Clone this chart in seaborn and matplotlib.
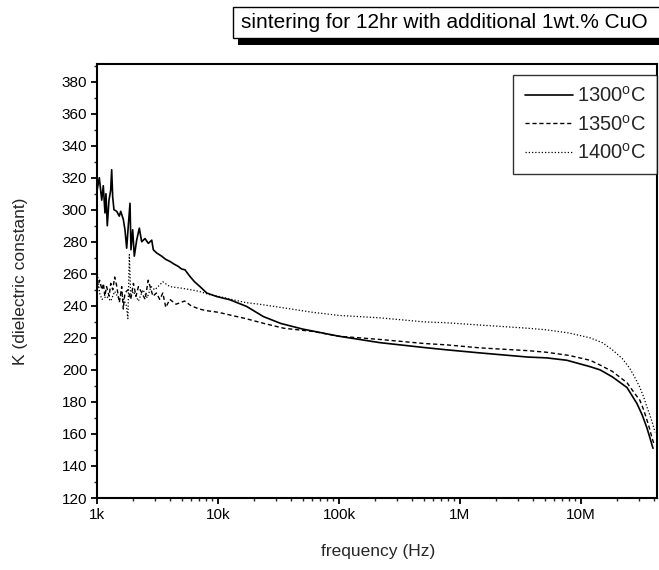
import matplotlib
matplotlib.use("Agg")
import matplotlib.pyplot as plt
import seaborn as sns
import pandas as pd
import numpy as np
from matplotlib.patches import Rectangle
from matplotlib.ticker import FixedLocator, FixedFormatter, LogLocator, NullFormatter, MultipleLocator

# ---------------- data ----------------
freq_1300 = [1000, 1045, 1094, 1127, 1164, 1186, 1216, 1256, 1297, 1322, 1348, 1381, 1455,
             1528, 1570, 1649, 1703, 1759, 1814, 1874, 1909, 1972, 2034, 2128, 2237, 2340,
             2493, 2656, 2834, 2920, 3114, 3424, 3700, 4011, 4350, 4697, 5000, 5335, 5871,
             6400, 7100, 8070, 9755, 12560, 17260, 23700, 33000, 50000, 100000, 218000,
             500000, 782000, 1460000, 3650000, 5200000, 7650000, 11900000, 14400000,
             18200000, 24000000, 29000000, 32000000, 35000000, 37000000, 39400000]
k_1300 = [312, 320, 306, 315, 298, 310, 290, 306, 312, 325, 308, 300, 299,
          296, 299, 294, 287.5, 276, 290, 304, 275, 287.5, 271, 281, 288.5, 280,
          282, 279, 281, 275, 273, 271, 269, 267.7, 266, 264.6, 263, 262.5, 258.3,
          255, 252, 248, 245.8, 243.75, 239.6, 233.3, 229, 225.5, 221, 217,
          214, 212.5, 210.6, 208, 207.5, 206, 202, 200,
          195.6, 189, 179, 172, 164, 158, 151]

freq_1350 = [1000, 1050, 1100, 1130, 1160, 1200, 1260, 1300, 1350, 1400, 1450, 1530, 1600,
             1650, 1700, 1800, 1900, 2000, 2100, 2200, 2350, 2500, 2650, 2800, 2900, 3100,
             3300, 3500, 3700, 4000, 4500, 5300, 6000, 7000, 8000, 10000, 13000, 17000,
             24000, 35000, 61000, 100000, 218000, 500000, 782000, 1460000, 3650000,
             5200000, 8000000, 11900000, 14400000, 18200000, 24000000, 28000000, 30700000,
             33000000, 35000000, 37000000, 38500000, 40000000]
k_1350 = [250, 256, 250, 254, 246, 252, 246, 254, 250, 258, 253, 242, 252,
          238, 248, 250, 244, 254, 246, 252, 248, 244, 256, 250, 246, 248,
          244, 248, 239, 244, 241, 243, 240, 238, 237, 236, 234, 232,
          229, 226, 224, 221, 219, 216.5, 215.6, 213.75, 212,
          211, 209, 206, 203, 199, 192, 185, 181,
          175, 169, 163, 158, 154]

freq_1400 = [1000, 1050, 1100, 1200, 1300, 1400, 1500, 1600, 1750, 1800, 1850, 1900, 2000,
             2200, 2400, 2600, 2800, 3000, 3500, 4000, 5000, 6000, 7000, 8500, 10000, 13000,
             17000, 22000, 33000, 60000, 100000, 218000, 500000, 782000, 1460000, 3650000,
             5200000, 8000000, 11900000, 15000000, 18200000, 22000000, 25300000, 28000000,
             30700000, 33000000, 35000000, 37000000, 39400000, 41000000]
k_1400 = [262, 248, 244, 246, 243, 249, 245, 247, 240, 232, 272, 246, 249,
          243, 250, 245, 252, 250, 255, 252, 251, 250, 249, 247, 246, 244,
          242, 241, 239, 236, 234, 232.5, 230, 229.4, 228, 226,
          225, 223, 220, 217, 212.5, 207, 201, 195,
          189, 183, 177, 172, 165.6, 161]

series_labels = ["1300$^\\mathrm{o}$C", "1350$^\\mathrm{o}$C", "1400$^\\mathrm{o}$C"]
x_tick_values = [1e3, 1e4, 1e5, 1e6, 1e7]
x_tick_labels = ["1k", "10k", "100k", "1M", "10M"]
y_tick_values = list(range(120, 381, 20))
title_text = "sintering for 12hr with additional 1wt.% CuO"
x_label = "frequency (Hz)"
y_label = "K (dielectric constant)"

# ---------------- style ----------------
sns.set_theme(style="ticks")
plt.rcParams["font.family"] = ["Liberation Sans", "DejaVu Sans"]
plt.rcParams["mathtext.fontset"] = "custom"
plt.rcParams["mathtext.rm"] = "Liberation Sans"

W, H = 659, 570
fig = plt.figure(figsize=(W / 100, H / 100), dpi=100)
ax = fig.add_axes([97 / W, 1 - 498 / H, 560 / W, 434 / H])

styles = [dict(linestyle="-", linewidth=1.2),
          dict(linestyle=(0, (3, 2)), linewidth=1.0),
          dict(linestyle=(0, (1, 1.6)), linewidth=0.9)]
data = [(freq_1300, k_1300), (freq_1350, k_1350), (freq_1400, k_1400)]
for (f, k), lab, st in zip(data, series_labels, styles):
    df = pd.DataFrame({"freq": f, "K": k})
    sns.lineplot(data=df, x="freq", y="K", ax=ax, color="black", label=lab,
                 estimator=None, sort=True, **st)

ax.set_xscale("log")
ax.set_xlim(1e3, 4.25e7)
ax.set_ylim(120, 391)

ax.xaxis.set_major_locator(FixedLocator(x_tick_values))
ax.xaxis.set_major_formatter(FixedFormatter(x_tick_labels))
ax.xaxis.set_minor_locator(LogLocator(base=10, subs=np.arange(2, 10)))
ax.xaxis.set_minor_formatter(NullFormatter())
ax.yaxis.set_major_locator(FixedLocator(y_tick_values))
ax.yaxis.set_minor_locator(MultipleLocator(10))

ax.tick_params(axis="both", which="major", direction="out", length=4, width=1.3,
               labelsize=11, pad=3, colors="black")
ax.tick_params(axis="both", which="minor", direction="out", length=2.5, width=1.0)
for side in ["left", "bottom", "top", "right"]:
    ax.spines[side].set_visible(True)
    ax.spines[side].set_color("black")
    ax.spines[side].set_linewidth(1.5)

ax.set_xlabel(x_label, fontsize=12.5)
ax.set_ylabel(y_label, fontsize=12.5)
ax.xaxis.set_label_coords(0.502, -0.106)
ax.yaxis.set_label_coords(-0.123, 0.5)

leg = ax.legend(loc="upper right", bbox_to_anchor=(1.0, 1 - 11 / 434), borderaxespad=0,
                frameon=True, fancybox=False, edgecolor="black", fontsize=14.5,
                handlelength=2.4, labelspacing=0.42, handletextpad=0.2,
                borderpad=0.55)
leg.get_frame().set_linewidth(1.0)

# ---------------- title box with shadow ----------------
def fx(px):
    return px / W

def fy(py):
    return 1 - py / H

shadow = Rectangle((fx(238), fy(45)), fx(440), 8 / H, transform=fig.transFigure,
                   facecolor="black", edgecolor="none", zorder=5)
box = Rectangle((fx(233), fy(38)), fx(440), 31 / H, transform=fig.transFigure,
                facecolor="white", edgecolor="black", linewidth=1.0, zorder=6)
fig.patches.extend([shadow, box])
fig.text(fx(444), fy(23), title_text, ha="center", va="center", fontsize=15,
         color="black", zorder=7)

fig.savefig("out.png", dpi=100)
